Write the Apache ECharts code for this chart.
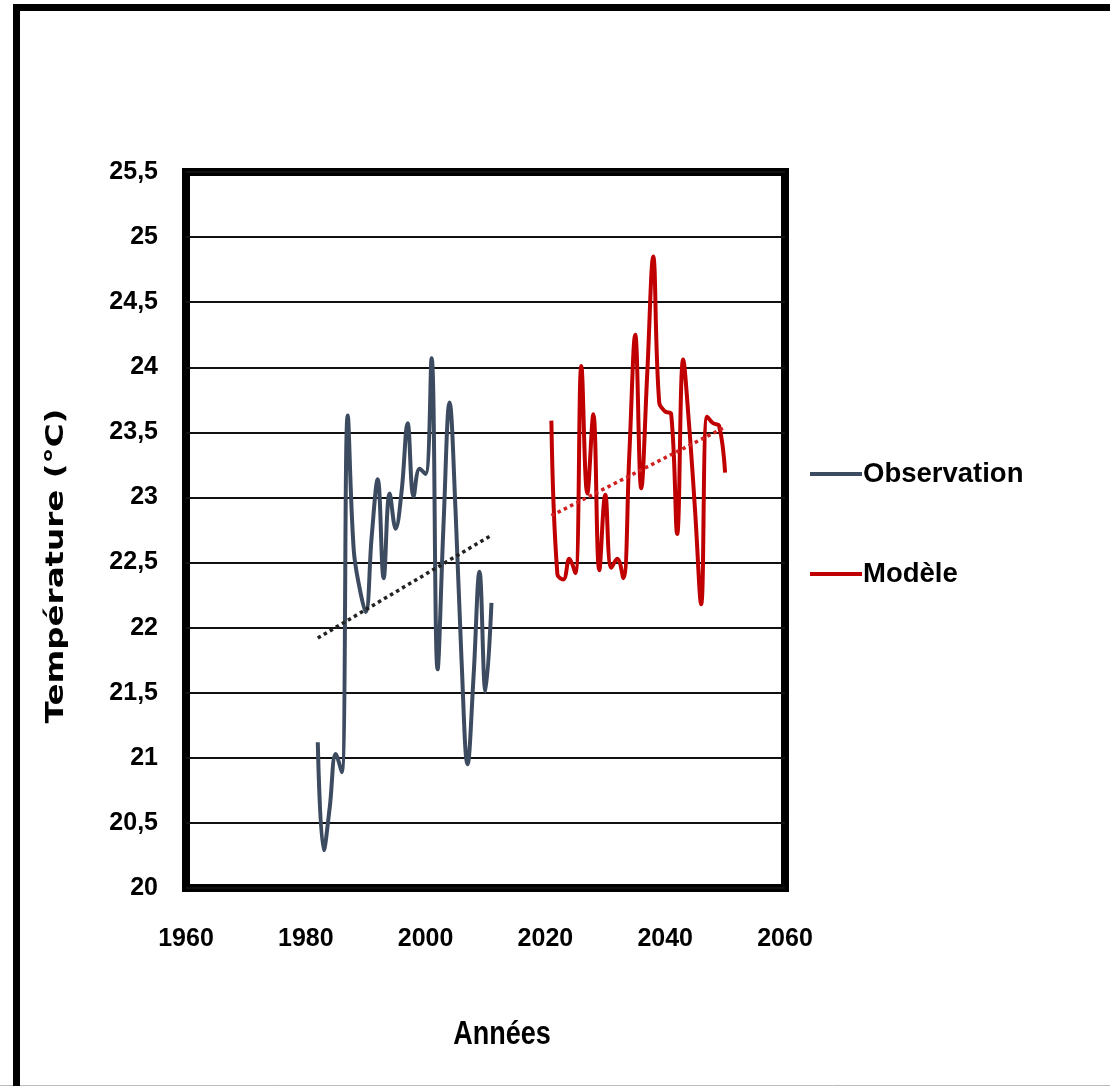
<!DOCTYPE html>
<html>
<head>
<meta charset="utf-8">
<script src="https://cdn.jsdelivr.net/npm/echarts@6/dist/echarts.min.js"></script>
<style>html,body{margin:0;padding:0;background:#fff;}#c{width:1110px;height:1086px;}</style>
</head>
<body>
<div id="c"></div>
<script>
var obsYears = [1982,1983,1984,1985,1986,1987,1988,1989,1990,1991,1992,1993,1994,1995,1996,1997,1998,1999,2000,2001,2002,2003,2004,2005,2006,2007,2008,2009,2010,2011];
var obsValues = [21.12,20.29,20.62,21.03,20.89,23.63,22.6,22.3,22.12,22.7,23.14,22.38,23.03,22.76,23.05,23.57,23.01,23.22,23.18,24.07,21.68,22.8,23.73,22.9,21.75,20.95,21.62,22.43,21.51,22.19];
var modYears = [2021,2022,2023,2024,2025,2026,2027,2028,2029,2030,2031,2032,2033,2034,2035,2036,2037,2038,2039,2040,2041,2042,2043,2044,2045,2046,2047,2048,2049,2050];
var modValues = [23.59,22.41,22.37,22.53,22.42,24.01,23.03,23.64,22.44,23.02,22.46,22.53,22.38,23.32,24.25,23.07,23.95,24.85,23.73,23.66,23.64,22.72,24.06,23.55,22.89,22.18,23.62,23.57,23.55,23.19];
var obsTrendYears = [1982, 2011];
var obsTrendValues = [21.92, 22.71];
var modTrendYears = [2021, 2050];
var modTrendValues = [22.86, 23.54];
var xTicks = [1960, 1980, 2000, 2020, 2040, 2060];
var yTicks = [20, 20.5, 21, 21.5, 22, 22.5, 23, 23.5, 24, 24.5, 25, 25.5];
var names = ['Observation', 'Modèle'];

function pairs(xs, ys) { return xs.map(function (x, i) { return [x, ys[i]]; }); }

var sans = "'Liberation Sans', Arial, sans-serif";
var chart = echarts.init(document.getElementById('c'), null, {renderer: 'canvas'});
chart.setOption({
  backgroundColor: '#ffffff',
  animation: false,
  grid: {left: 186, right: 325, top: 172, bottom: 198, show: true, borderWidth: 8, borderColor: '#000', backgroundColor: '#fff'},
  xAxis: {
    type: 'value', min: xTicks[0], max: xTicks[xTicks.length - 1], interval: 20,
    axisLine: {show: false}, axisTick: {show: false}, splitLine: {show: false},
    axisLabel: {margin: 39, fontFamily: sans, fontWeight: 'bold', fontSize: 25, color: '#000',
      formatter: function (v) { return String(v); }}
  },
  yAxis: {
    type: 'value', min: yTicks[0], max: yTicks[yTicks.length - 1], interval: 0.5,
    axisLine: {show: false}, axisTick: {show: false},
    splitLine: {show: true, lineStyle: {color: '#111', width: 2}},
    axisLabel: {margin: 28, fontFamily: sans, fontWeight: 'bold', fontSize: 25, color: '#000',
      formatter: function (v) { return String(v).replace('.', ','); }}
  },
  legend: {
    orient: 'vertical', left: 805, top: 455, itemWidth: 52, itemHeight: 4, itemGap: 72,
    icon: 'rect', data: names,
    textStyle: {fontFamily: sans, fontWeight: 'bold', fontSize: 27.5, color: '#000', padding: [0, 0, 0, -4]}
  },
  series: [
    {name: names[0], type: 'line', data: pairs(obsYears, obsValues), smooth: 0.4, showSymbol: false, symbol: 'none',
      lineStyle: {color: '#3d4b60', width: 4}, itemStyle: {color: '#3d4b60'}, z: 3},
    {name: names[1], type: 'line', data: pairs(modYears, modValues), smooth: 0.4, showSymbol: false, symbol: 'none',
      lineStyle: {color: '#c00000', width: 4}, itemStyle: {color: '#c00000'}, z: 3},
    {name: 'Linéaire (Observation)', type: 'line', data: pairs(obsTrendYears, obsTrendValues), showSymbol: false, symbol: 'none',
      lineStyle: {color: '#222', width: 3.5, type: [3.5, 3.5], cap: 'butt'}, z: 4},
    {name: 'Linéaire (Modèle)', type: 'line', data: pairs(modTrendYears, modTrendValues), showSymbol: false, symbol: 'none',
      lineStyle: {color: '#d22020', width: 3.5, type: [3.5, 3.5], cap: 'butt'}, z: 4}
  ],
  graphic: [
    {type: 'rect', shape: {x: 16.5, y: 7.5, width: 1200, height: 1200}, style: {fill: null, stroke: '#000', lineWidth: 7}, silent: true, z: 10},
    {type: 'line', shape: {x1: 0, y1: 1085.5, x2: 1110, y2: 1085.5}, style: {stroke: '#bbb', lineWidth: 1}, silent: true},
    {type: 'text', x: 56, y: 566, rotation: Math.PI / 2, scaleX: 1.3,
      style: {text: 'Température (°C)', fontFamily: "'DejaVu Sans', sans-serif", fontWeight: 'bold', fontSize: 25, fill: '#000', align: 'center', verticalAlign: 'middle'}},
    {type: 'text', x: 502, y: 1035, scaleY: 1.25,
      style: {text: 'Années', fontFamily: sans, fontWeight: 'bold', fontSize: 27, fill: '#000', align: 'center', verticalAlign: 'middle'}}
  ]
});
</script>
</body>
</html>
